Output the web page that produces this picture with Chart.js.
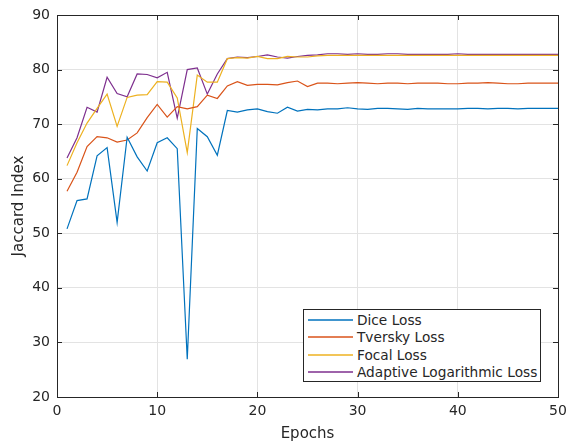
<!DOCTYPE html>
<html lang="en">
<head>
<meta charset="UTF-8">
<title>Jaccard Index vs Epochs</title>
<script src="https://cdn.jsdelivr.net/npm/chart.js"></script>
<style>
    html, body { margin: 0; padding: 0; background: #fff; }
    #wrap { position: relative; width: 568px; height: 443px; }
    #legend {
        position: absolute; left: 303px; top: 309px; width: 236px; height: 70px;
        border: 1px solid #262626; background: #fff;
        font-family: "DejaVu Sans", sans-serif; font-size: 13.7px; color: #262626;
        padding-top: 1px;
    }
    .row { height: 17.5px; display: flex; align-items: center; }
    .swatch { width: 45px; height: 0; margin-left: 4px; margin-right: 4px; }
</style>
</head>
<body>
<div id="wrap">
    <canvas id="chart" width="568" height="443"></canvas>
    <div id="legend"></div>
</div>
<script>
    // x values (epochs)
    const epochs = [1, 2, 3, 4, 5, 6, 7, 8, 9, 10, 11, 12, 13, 14, 15, 16, 17, 18, 19, 20,
        21, 22, 23, 24, 25, 26, 27, 28, 29, 30, 31, 32, 33, 34, 35, 36, 37, 38, 39, 40,
        41, 42, 43, 44, 45, 46, 47, 48, 49, 50];

    // Jaccard index per loss
    const diceLoss = [50.8, 56.0, 56.3, 64.2, 65.7, 52.0, 67.6, 64.0, 61.4, 66.6,
        67.5, 65.5, 26.9, 69.2, 67.7, 64.3, 72.5, 72.2, 72.6, 72.8,
        72.3, 72.0, 73.1, 72.4, 72.7, 72.6, 72.8, 72.8, 73.0, 72.8,
        72.7, 72.9, 72.9, 72.8, 72.7, 72.9, 72.8, 72.8, 72.8, 72.8,
        72.9, 72.9, 72.8, 72.9, 72.9, 72.8, 72.9, 72.9, 72.9, 72.9];
    const tverskyLoss = [57.7, 61.2, 65.9, 67.7, 67.5, 66.7, 67.1, 68.4, 71.2, 73.6,
        71.3, 73.2, 72.8, 73.2, 75.3, 74.7, 77.0, 77.8, 77.1, 77.3,
        77.3, 77.2, 77.6, 77.9, 76.9, 77.5, 77.5, 77.4, 77.5, 77.6,
        77.5, 77.4, 77.5, 77.5, 77.4, 77.5, 77.5, 77.5, 77.4, 77.4,
        77.5, 77.5, 77.6, 77.5, 77.4, 77.4, 77.5, 77.5, 77.5, 77.5];
    const focalLoss = [62.4, 66.6, 70.2, 72.9, 75.5, 69.6, 74.9, 75.3, 75.4, 77.8,
        77.7, 74.8, 64.8, 79.0, 77.7, 77.7, 82.0, 82.2, 82.1, 82.4,
        82.0, 82.0, 82.4, 82.3, 82.3, 82.5, 82.6, 82.6, 82.6, 82.6,
        82.6, 82.6, 82.6, 82.6, 82.6, 82.6, 82.6, 82.6, 82.6, 82.6,
        82.6, 82.6, 82.6, 82.6, 82.6, 82.6, 82.6, 82.6, 82.6, 82.6];
    const adaptiveLogLoss = [63.8, 67.5, 73.1, 72.2, 78.6, 75.6, 75.0, 79.2, 79.1, 78.5,
        79.5, 71.1, 80.0, 80.3, 75.5, 79.2, 82.0, 82.3, 82.2, 82.4,
        82.7, 82.3, 82.1, 82.4, 82.6, 82.7, 82.9, 82.9, 82.8, 82.9,
        82.8, 82.8, 82.9, 82.9, 82.8, 82.8, 82.8, 82.8, 82.8, 82.9,
        82.8, 82.8, 82.8, 82.8, 82.8, 82.8, 82.8, 82.8, 82.8, 82.8];

    const seriesNames = ['Dice Loss', 'Tversky Loss', 'Focal Loss', 'Adaptive Logarithmic Loss'];
    const seriesData = [diceLoss, tverskyLoss, focalLoss, adaptiveLogLoss];
    const seriesColors = ['#0072BD', '#D95319', '#EDB120', '#7E2F8E'];

    const font = "'DejaVu Sans', sans-serif";
    const axisColor = '#262626';

    // MATLAB style box with inward ticks on all four sides
    const boxPlugin = {
        id: 'matlabBox',
        afterDatasetsDraw(chart) {
            const { ctx, chartArea: a, scales } = chart;
            const len = 5;
            ctx.save();
            ctx.strokeStyle = axisColor;
            ctx.lineWidth = 1;
            ctx.beginPath();
            scales.x.ticks.forEach(t => {
                const px = Math.round(scales.x.getPixelForValue(t.value)) + 0.5;
                ctx.moveTo(px, a.bottom); ctx.lineTo(px, a.bottom - len);
                ctx.moveTo(px, a.top); ctx.lineTo(px, a.top + len);
            });
            scales.y.ticks.forEach(t => {
                const py = Math.round(scales.y.getPixelForValue(t.value)) + 0.5;
                ctx.moveTo(a.left, py); ctx.lineTo(a.left + len, py);
                ctx.moveTo(a.right, py); ctx.lineTo(a.right - len, py);
            });
            ctx.stroke();
            ctx.strokeRect(Math.round(a.left) + 0.5, Math.round(a.top) + 0.5,
                Math.round(a.right - a.left), Math.round(a.bottom - a.top));
            ctx.restore();
        }
    };

    const chart = new Chart(document.getElementById('chart'), {
        type: 'line',
        data: {
            datasets: seriesNames.map((name, i) => ({
                label: name,
                data: epochs.map((e, k) => ({ x: e, y: seriesData[i][k] })),
                borderColor: seriesColors[i],
                borderWidth: 1.2,
                pointRadius: 0,
                fill: false,
                tension: 0
            }))
        },
        options: {
            responsive: false,
            animation: false,
            layout: { padding: { top: 15, right: 10, left: 0, bottom: 0 } },
            plugins: { legend: { display: false }, tooltip: { enabled: false } },
            scales: {
                x: {
                    type: 'linear', min: 0, max: 50,
                    afterFit: s => { s.height = 46; s.paddingRight = 0; s.paddingLeft = 0; },
                    ticks: { stepSize: 10, padding: 6, color: axisColor, font: { family: font, size: 14 } },
                    grid: { color: '#e3e3e3', drawTicks: false },
                    border: { display: false },
                    title: { display: true, text: 'Epochs', color: axisColor, padding: 0, font: { family: font, size: 15 } }
                },
                y: {
                    min: 20, max: 90,
                    afterFit: s => { s.width = 57; s.paddingTop = 0; s.paddingBottom = 0; },
                    ticks: { stepSize: 10, padding: 7, color: axisColor, font: { family: font, size: 14 } },
                    grid: { color: '#e3e3e3', drawTicks: false },
                    border: { display: false },
                    title: { display: true, text: 'Jaccard Index', color: axisColor, padding: { top: 10 }, font: { family: font, size: 15 } }
                }
            }
        },
        plugins: [boxPlugin]
    });

    // legend box in the lower right of the axes
    const legend = document.getElementById('legend');
    seriesNames.forEach((name, i) => {
        const row = document.createElement('div');
        row.className = 'row';
        const sw = document.createElement('span');
        sw.className = 'swatch';
        sw.style.borderTop = '2px solid ' + seriesColors[i];
        sw.style.opacity = 0.75;
        const label = document.createElement('span');
        label.textContent = name;
        row.appendChild(sw);
        row.appendChild(label);
        legend.appendChild(row);
    });
</script>
</body>
</html>
